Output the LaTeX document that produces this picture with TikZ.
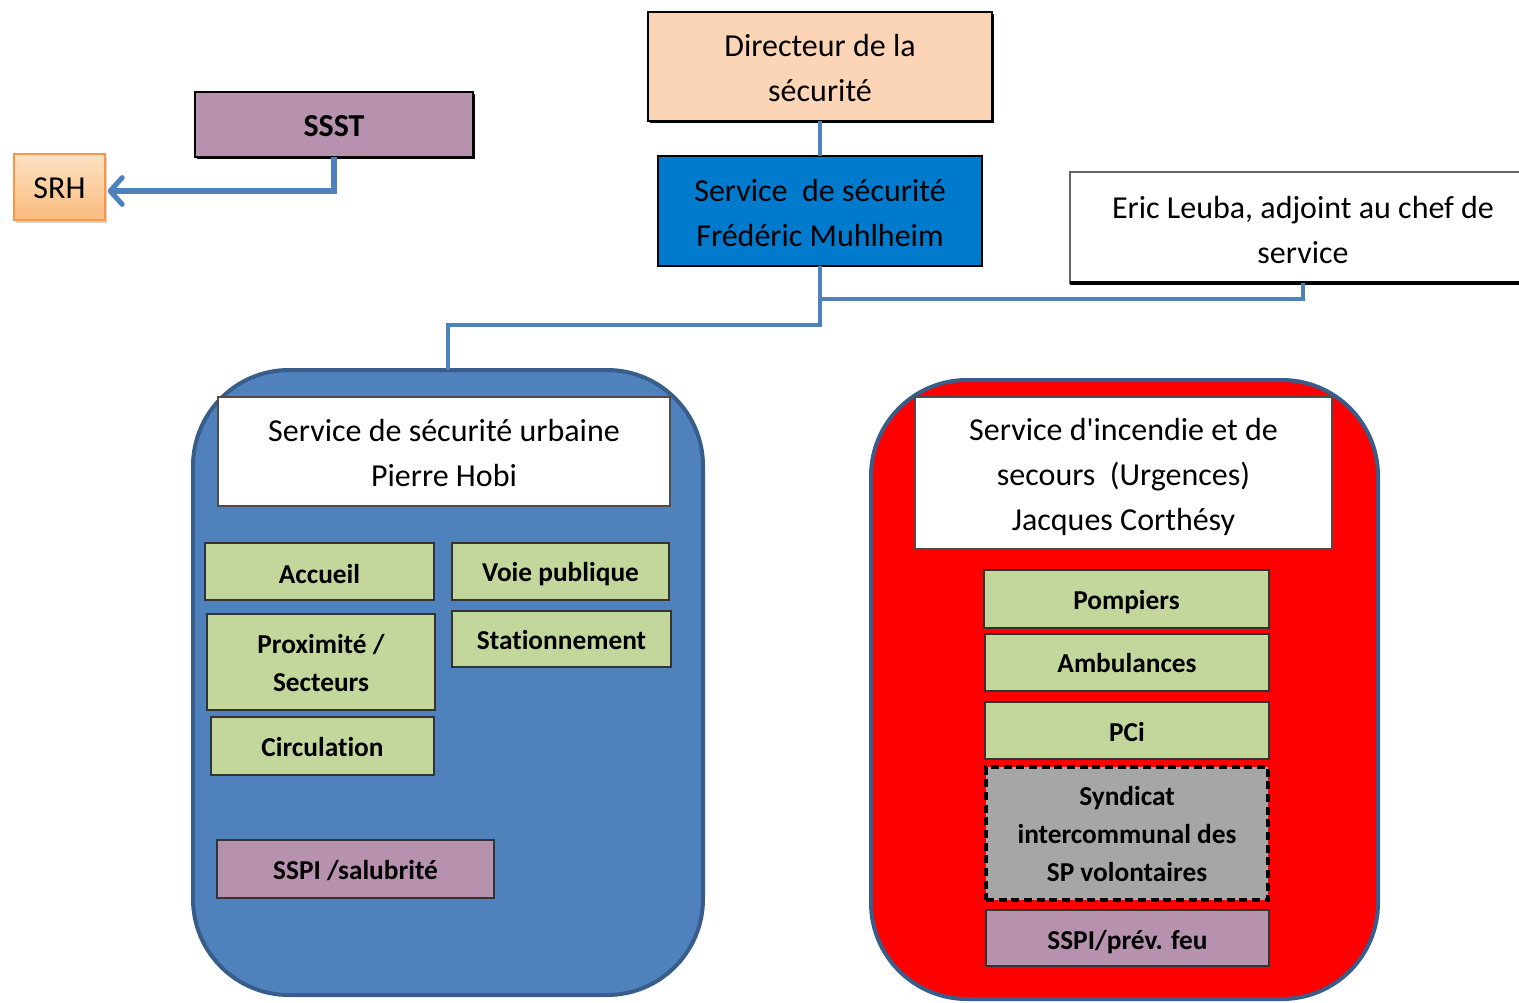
\documentclass[tikz,border=0pt]{standalone}
\usepackage{fontspec}
\setmainfont{Carlito}[Ligatures={TeXOff,NoCommon}]
\usetikzlibrary{arrows.meta,shadows}
\definecolor{purplebox}{RGB}{183,146,174}
\definecolor{greenbox}{RGB}{195,214,155}
\definecolor{linkblue}{RGB}{79,129,189}
\definecolor{frameblue}{RGB}{56,93,138}
\definecolor{svcblue}{RGB}{0,122,204}
\definecolor{peach}{RGB}{251,213,181}
\definecolor{srhtop}{RGB}{253,225,195}
\definecolor{srhbot}{RGB}{250,188,125}
\definecolor{srhborder}{RGB}{247,150,70}
\definecolor{graybox}{RGB}{166,166,166}
% #1 box style, #2-#5 x1 y1 x2 y2 (px), #6 name, #7 text options, #8 text
\newcommand\orgbox[8]{%
  \node[#1,minimum width={(#4-#2)*0.75pt},minimum height={(#5-#3)*0.75pt}] (#6) at ({(#2+#4)/2},{(#3+#5)/2}) {};
  \node[txt,#7] (#6-t) at (#6.center) {#8};}
\begin{document}
\begin{tikzpicture}[x=0.75pt,y=-0.75pt,
  base/.style={rectangle,inner sep=0pt,outer sep=0pt},
  txt/.style={rectangle,inner sep=0pt,outer sep=0pt,align=center,text=black},
  dn/.style={yshift={-(#1)*0.75pt}},
  reg/.style={font=\fontsize{24}{33.75}\selectfont,dn=#1},
  bld/.style={font=\bfseries\fontsize{20.5}{28.5}\selectfont,dn=#1},
  hardshadow/.style={general shadow={fill=black,shadow xshift=1.2pt,shadow yshift=-1.6pt}},
  greenunit/.style={base,fill=greenbox,draw=black!80,line width=0.9pt},
  purpleunit/.style={base,fill=purplebox,draw=black!80,line width=0.9pt},
  headbox/.style={base,fill=white,draw=black!70,line width=0.8pt},
  container/.style={base,draw=frameblue,line width=3pt,rounded corners=72pt},
  link/.style={draw=linkblue,line width=2.6pt}]
\useasboundingbox (0,0) rectangle (1519,1002);

% top level boxes
\orgbox{base,fill=peach,draw=black,line width=1.2pt,hardshadow}{648}{12}{992}{121}{dir}{reg=2}{Directeur de la\\sécurité}
\orgbox{base,fill=svcblue,draw=black,line width=1.5pt}{658}{156}{982}{266}{svc}{reg=2}{Service\ \ de sécurité\\Frédéric Muhlheim}
\orgbox{base,fill=white,draw=black!60,line width=0.8pt}{1070}{172}{1536}{283}{eric}{reg=3}{Eric Leuba, adjoint au chef de\\service}
\draw[line width=3pt] (eric.south west) -- (eric.south east);
\orgbox{base,fill=purplebox,draw=black,line width=1.2pt,hardshadow}{195}{92}{473}{157}{ssst}{font=\bfseries\fontsize{24}{30}\selectfont,dn=2}{SSST}
\orgbox{base,top color=srhtop,bottom color=srhbot,draw=srhborder,line width=1.2pt,drop shadow={shadow xshift=1.5pt,shadow yshift=-2pt,opacity=0.35}}{14}{154}{105}{220}{srh}{reg=1}{SRH}

% containers
\node[container,fill=linkblue,minimum width={510*0.75pt},minimum height={625*0.75pt}] (urb) at (448,682.5) {};
\node[container,fill=red,minimum width={507*0.75pt},minimum height={619*0.75pt}] (inc) at (1124.5,689.5) {};

% urban service
\orgbox{headbox}{218}{397}{670}{506}{urbhead}{reg=1}{Service de sécurité urbaine\\Pierre Hobi}
\orgbox{greenunit}{205}{543}{434}{600}{acc}{bld=3}{Accueil}
\orgbox{greenunit}{452}{543}{669}{600}{voie}{bld=3}{Voie publique}
\orgbox{greenunit}{207}{614}{435}{710}{prox}{bld=1}{Proximité /\\Secteurs}
\orgbox{greenunit}{452}{611}{671}{667}{stat}{bld=1}{Stationnement}
\orgbox{greenunit,line width=1.5pt}{211}{717}{434}{775}{circ}{bld=1}{Circulation}
\orgbox{purpleunit}{217}{840}{494}{898}{sspis}{bld=2}{SSPI /salubrité}

% fire service
\orgbox{headbox}{915}{397}{1332}{549}{inchead}{reg=4}{Service d'incendie et de\\secours\ \ (Urgences)\\Jacques Corthésy}
\orgbox{greenunit}{984}{570}{1269}{628}{pomp}{bld=3}{Pompiers}
\orgbox{greenunit}{985}{634}{1269}{691}{amb}{bld=1}{Ambulances}
\orgbox{greenunit}{985}{702}{1269}{759}{pci}{bld=1}{PCi}
\orgbox{base,fill=graybox,draw=black,line width=2.4pt,dash pattern=on 6pt off 3.5pt}{986}{767}{1268}{900}{synd}{bld=0}{Syndicat\\intercommunal des\\SP volontaires}
\orgbox{purpleunit}{986}{910}{1269}{966}{sspif}{bld=4}{SSPI/prév. feu}

% connectors
\coordinate (j1) at (820,299);
\coordinate (j2) at (820,325);
\draw[link] (dir.south) -- (svc.north);
\draw[link] (svc.south) -- (j2) -| (urb.north);
\draw[link] (j1) -| (eric.south);
\draw[draw=linkblue,line width=3.8pt,-{Straight Barb[length=9pt,width=20pt,round]}] (ssst.south) |- ([xshift=2pt,yshift=-3pt]srh.east);
\end{tikzpicture}
\end{document}
